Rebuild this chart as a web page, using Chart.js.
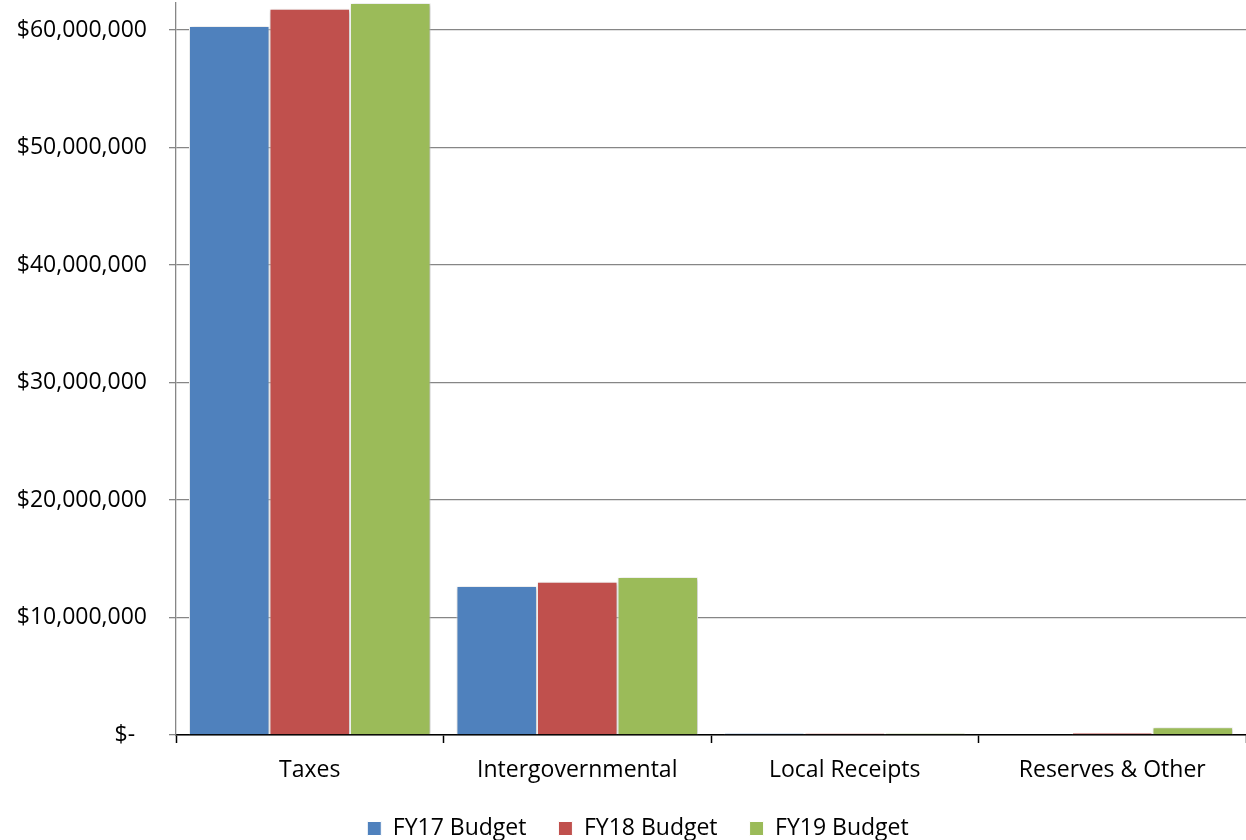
<!DOCTYPE html>
<html>
<head>
<meta charset="utf-8">
<script src="https://cdn.jsdelivr.net/npm/chart.js@4/dist/chart.umd.min.js"></script>
<style>
  html, body { margin: 0; padding: 0; background: #ffffff; }
  #wrap { width: 1246px; height: 840px; }
</style>
</head>
<body>
<div id="wrap"><canvas id="chart" width="1246" height="840"></canvas></div>
<script>
// Revenue sources by budget year
const categories = ["Taxes", "Intergovernmental", "Local Receipts", "Reserves & Other"];
const fy17Budget = [60350000, 12680000, 150000, 0];
const fy18Budget = [61800000, 13050000, 150000, 200000];
const fy19Budget = [62300000, 13450000, 150000, 650000];
const seriesNames = ["FY17 Budget", "FY18 Budget", "FY19 Budget"];
const yTickValues = [0, 10000000, 20000000, 30000000, 40000000, 50000000, 60000000];
const yAxisMax = 62300000;

const FONT = "'Open Sans', 'Liberation Sans', sans-serif";
const FONT_SIZE = 23;

// Accounting-style currency: zero shows as a dash with trailing space
function money(v) {
  if (v === 0) return "$-  ";
  return "$" + Math.round(v).toLocaleString("en-US");
}

// Soft drop shadow behind each bar
const barShadow = {
  id: "barShadow",
  beforeDatasetsDraw(chart) {
    const c = chart.ctx;
    c.save();
    c.shadowColor = "rgba(0,0,0,0.28)";
    c.shadowBlur = 4;
    c.shadowOffsetX = 1;
    c.shadowOffsetY = 1;
  },
  afterDatasetsDraw(chart) {
    chart.ctx.restore();
  }
};

// Nudge the legend row a little to the right of centre
const legendShift = {
  id: "legendShift",
  beforeDraw(chart) {
    const lg = chart.legend;
    if (lg) {
      lg.left = 15;
      lg.right = chart.width + 15;
    }
  }
};

new Chart(document.getElementById("chart"), {
  type: "bar",
  data: {
    labels: categories,
    datasets: [
      { label: seriesNames[0], data: fy17Budget, backgroundColor: "#4F81BD" },
      { label: seriesNames[1], data: fy18Budget, backgroundColor: "#C0504D" },
      { label: seriesNames[2], data: fy19Budget, backgroundColor: "#9BBB59" }
    ]
  },
  plugins: [barShadow, legendShift],
  options: {
    responsive: false,
    animation: false,
    layout: { padding: { top: 3, right: 0, bottom: -10, left: 0 } },
    datasets: {
      bar: {
        categoryPercentage: 0.903,
        barPercentage: 1.0,
        borderColor: "#ffffff",
        borderWidth: 1,
        borderSkipped: "start"
      }
    },
    plugins: {
      legend: {
        position: "bottom",
        labels: {
          font: { family: FONT, size: FONT_SIZE },
          color: "#000000",
          boxWidth: 14,
          boxHeight: 14,
          padding: 32
        }
      },
      tooltip: { enabled: false }
    },
    scales: {
      x: {
        grid: {
          display: true,
          offset: true,
          drawOnChartArea: false,
          drawTicks: true,
          tickLength: 8,
          tickColor: "#000000",
          tickWidth: 1.5
        },
        border: { color: "#000000", width: 1.5 },
        ticks: {
          font: { family: FONT, size: FONT_SIZE },
          color: "#000000",
          padding: 14
        },
        afterFit(scale) { scale.height = 50; }
      },
      y: {
        min: 0,
        max: yAxisMax,
        afterBuildTicks(scale) {
          scale.ticks = yTickValues.map(v => ({ value: v }));
        },
        grid: {
          color: "#868686",
          lineWidth: 1.3,
          drawTicks: true,
          tickLength: 7,
          tickColor: "#868686"
        },
        border: { color: "#868686", width: 1.3 },
        ticks: {
          font: { family: FONT, size: FONT_SIZE },
          color: "#000000",
          padding: 22,
          callback: (v) => money(v)
        },
        afterFit(scale) {
          scale.width = 176;
          scale.paddingTop = 0;
          scale.paddingBottom = 0;
        }
      }
    }
  }
});
</script>
</body>
</html>
